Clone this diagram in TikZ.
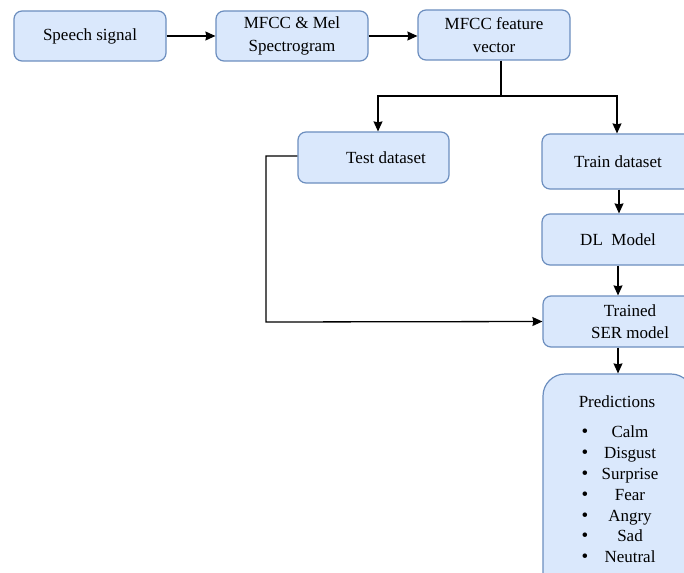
\documentclass[tikz,border=0pt]{standalone}
\usepackage{fontspec}
\setmainfont{Liberation Serif}
\newfontfamily\serifx{Liberation Serif}
\usetikzlibrary{arrows.meta,calc}
\definecolor{boxfill}{HTML}{DAE8FC}
\definecolor{boxline}{HTML}{6C8EBF}
\begin{document}
\begin{tikzpicture}[x=1pt,y=-1pt,
  blk/.style={draw=boxline,fill=boxfill,line width=1.2pt,rounded corners=8pt,
    minimum width=152pt,minimum height=50pt,inner sep=2pt,align=center,
    font=\serifx\fontsize{17}{22.5}\selectfont},
  txt/.style={inner sep=0pt,font=\serifx\fontsize{17}{22.5}\selectfont},
  conn/.style={line width=1.3pt,black},
  arr/.style={conn,-{Stealth[length=10pt,width=9pt,inset=1pt]}}]
\useasboundingbox (0,0) rectangle (684,572);
\clip (0,0) rectangle (684,572);
\fill[white] (0,0) rectangle (684,572);
\node[blk] (speech) at (90,36) {Speech signal};
\node[blk] (mel) at (292,36) {MFCC \& Mel\\Spectrogram};
\node[blk] (feat) at (494,35) {MFCC feature\\vector};
\node[blk,minimum width=151pt,minimum height=51pt] (test) at (373.5,157.5) {};
\node[txt] (testtxt) at (386,157.5) {Test dataset};
\node[blk,minimum height=55pt] (train) at (618,161.5) {Train dataset};
\node[blk,minimum height=51pt] (dl) at (618,239.5) {DL\ \ Model};
\node[blk,minimum width=151pt,minimum height=51pt] (trained) at (618.5,321.5) {};
\node[txt,align=center] (trainedtxt) at (630,321.5) {Trained\\SER model};
\node[blk,minimum width=150pt,minimum height=230pt,rounded corners=22pt] (pred) at (618,489) {};
\node[txt] (predtitle) at (617,402) {Predictions};
\foreach \t [count=\i] in {Calm,Disgust,Surprise,Fear,Angry,Sad,Neutral}{
  \node[txt,anchor=base,font=\serifx\fontsize{19}{19}\selectfont] (b\i) at (585,{437.8+20.8*(\i-1)}) {\textbullet};
  \node[txt,anchor=base] (p\i) at (630,{437.8+20.8*(\i-1)}) {\t};
}
\coordinate (split) at (501,96);
\coordinate (loopc) at (266,322);
\draw[arr] (speech.east) -- (mel.west);
\draw[arr] (mel.east) -- (mel.east -| feat.west);
\draw[conn] (feat.south -| split) -- (split);
\draw[arr] (split) -| ([xshift=4.5pt]test.north);
\draw[arr] (split) -| ([xshift=-1pt]train.north);
\draw[arr] ([xshift=1pt]train.south) -- ([xshift=1pt]dl.north);
\draw[arr] (dl.south) -- ([xshift=-0.5pt]trained.north);
\draw[arr] ([xshift=-0.5pt]trained.south) -- (pred.north);
\draw[arr] ([yshift=1.5pt]test.west) -- ([yshift=1.5pt]test.west -| loopc) -- (loopc) -- (trained.west);
\end{tikzpicture}
\end{document}
